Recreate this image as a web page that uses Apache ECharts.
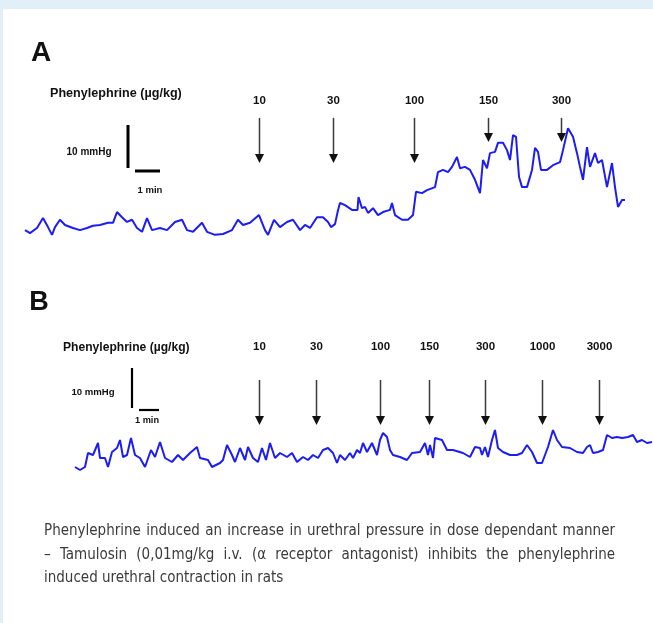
<!DOCTYPE html>
<html>
<head>
<meta charset="utf-8">
<script src="https://cdn.jsdelivr.net/npm/echarts@6/dist/echarts.min.js"></script>
<style>
html,body{margin:0;padding:0;background:#ffffff;}
#c{width:653px;height:623px;}
</style>
</head>
<body>
<div id="c"></div>
<script>
// ---------- Panel A: urethral pressure trace (time in min, pressure in mmHg, relative) ----------
const traceA_t = [0,0.2,0.48,0.72,0.92,1.08,1.2,1.4,1.6,1.92,2.2,2.48,2.72,3.0,3.32,3.52,3.68,3.88,4.08,4.28,4.48,4.68,4.88,5.08,5.4,5.68,6.0,6.28,6.48,6.72,7.08,7.28,7.6,7.92,8.28,8.52,8.72,9.0,9.36,9.6,9.72,9.96,10.2,10.48,10.72,11.0,11.2,11.4,11.68,11.92,12.12,12.24,12.4,12.52,12.6,12.8,13.08,13.3,13.34,13.48,13.6,13.72,13.92,14.12,14.32,14.6,14.68,14.8,15.08,15.32,15.52,15.64,15.88,16.08,16.4,16.52,16.72,16.92,17.08,17.12,17.28,17.4,17.6,17.8,18.0,18.2,18.32,18.48,18.6,18.8,18.92,19.12,19.28,19.4,19.52,19.64,19.76,19.88,20.08,20.28,20.4,20.52,20.64,20.88,21.12,21.4,21.52,21.72,21.92,22.08,22.2,22.32,22.48,22.6,22.8,22.92,23.08,23.28,23.48,23.6,23.72,23.88,24.0];
const traceA_p = [2.3,1.6,2.8,5.1,3.0,1.2,3.0,4.7,3.5,2.8,2.3,2.8,3.3,3.5,4.0,4.0,6.5,5.3,4.2,4.7,2.8,1.9,5.1,2.3,2.8,2.3,4.2,4.7,2.3,1.9,4.0,1.9,1.2,1.4,2.3,4.7,3.5,4.0,5.8,2.3,1.2,4.7,3.0,4.2,4.7,2.3,3.5,2.8,5.3,5.3,4.2,3.0,3.7,6.9,8.6,8.1,7.0,7.0,10.0,7.4,7.7,6.3,7.4,5.8,6.5,7.0,8.6,5.8,4.7,4.7,5.8,11.2,10.9,11.6,12.3,15.8,16.3,15.8,17.0,16.7,19.3,16.7,17.0,16.3,14.0,10.9,18.6,16.7,20.2,20.5,22.6,22.6,20.9,18.6,24.4,24.0,14.7,12.3,12.3,16.3,21.4,20.5,16.3,16.3,17.4,18.1,20.9,26.0,24.0,20.2,17.0,14.0,21.6,17.0,20.2,17.9,18.6,12.3,17.9,12.3,7.7,9.3,9.3];

// ---------- Panel B: trace after Tamulosin ----------
const traceB_t = [0,0.25,0.5,0.65,0.9,1.15,1.25,1.5,1.65,1.85,2.1,2.25,2.4,2.6,2.8,3.0,3.25,3.5,3.8,4.0,4.25,4.5,4.85,5.15,5.4,5.75,6.1,6.25,6.65,6.85,7.25,7.4,7.6,7.85,8.0,8.25,8.5,8.65,8.9,9.15,9.35,9.55,9.75,10.0,10.25,10.6,10.85,11.1,11.4,11.65,11.9,12.15,12.4,12.65,12.9,13.1,13.25,13.5,13.75,13.9,14.1,14.25,14.4,14.6,14.85,15.1,15.25,15.4,15.6,15.75,15.9,16.25,16.6,16.85,17.25,17.5,17.65,17.75,17.9,18.0,18.35,18.6,18.9,19.4,19.75,20.0,20.25,20.35,20.5,20.65,20.85,21.0,21.15,21.4,21.75,22.1,22.35,22.6,22.85,23.1,23.35,23.65,23.9,24.1,24.35,24.75,25.1,25.4,25.6,25.75,25.9,26.15,26.4,26.6,26.85,27.1,27.35,27.65,27.9,28.1,28.35,28.6,28.85];
const traceB_p = [2.0,1.25,2.0,5.5,5.0,8.0,4.25,4.25,2.0,5.75,6.75,8.75,4.5,5.0,9.25,5.0,4.25,2.0,6.25,4.5,8.25,4.25,3.25,5.0,3.75,5.5,7.0,4.25,3.75,2.0,3.0,3.75,7.5,5.0,3.25,6.75,3.75,7.0,4.25,3.25,6.75,3.75,8.0,4.25,5.5,4.5,5.5,3.25,4.5,3.75,5.0,4.25,6.25,6.75,5.5,3.0,5.0,3.75,5.5,4.25,6.25,5.5,8.0,5.75,8.0,5.0,8.75,10.5,9.5,6.25,5.0,4.5,3.75,5.5,5.75,8.0,5.0,7.5,4.25,9.25,8.75,6.25,6.25,5.5,4.5,7.0,6.75,5.0,7.0,4.5,8.75,11.25,6.75,5.75,5.0,5.0,5.5,7.5,5.75,3.0,3.0,7.0,11.25,8.75,7.0,6.75,5.75,5.5,7.0,7.5,5.5,5.75,6.25,10.0,9.25,9.5,9.25,9.5,10.0,8.25,8.75,8.0,8.25];

// ---------- Doses (µg/kg) and injection times ----------
const dosesA = ['10','30','100','150','300'];
const doseA_t = [9.36,12.32,15.56,18.52,21.44];
const doseA_tip = [17.9,17.9,17.9,22.8,22.8];
const dosesB = ['10','30','100','150','300','1000','3000'];
const doseB_t = [9.2,12.05,15.25,17.7,20.5,23.35,26.2];
const doseB_tip = [12.5,12.5,12.5,12.5,12.5,12.5,12.5];

// ---------- Scale bars ----------
const scaleBarMmHg = 10;
const scaleBarMin = 1;

const captionLines = [
  'Phenylephrine induced an increase in urethral pressure in dose dependant manner',
  '\u2013 Tamulosin (0,01mg/kg i.v. (\u03b1 receptor antagonist) inhibits the phenylephrine',
  'induced urethral contraction in rats'
];

// ================= layout / rendering =================
const BLUE = '#1c1cf4';
const BOLD = 'Liberation Sans, Arial, Helvetica, sans-serif';
const CAP_FONT_FAMILY = '"Liberation Sans Narrow", "DejaVu Sans Condensed", "Arial Narrow", sans-serif';
const CAP_SIZE = 15;

const chart = echarts.init(document.getElementById('c'), null, {renderer: 'canvas'});

function arrowSeries(ax, times, tips, topP, labels, gap) {
  return {
    type: 'custom', xAxisIndex: ax, yAxisIndex: ax, silent: true, clip: false, z: 5,
    data: times.map((t, i) => [t, topP, tips[i]]),
    renderItem: function (params, api) {
      const a = api.coord([api.value(0), api.value(1)]);
      const b = api.coord([api.value(0), api.value(2)]);
      const x = Math.round(a[0]) + 0.5, y0 = a[1], y1 = b[1];
      const hl = 9, hw = 4.5;
      return {
        type: 'group',
        children: [
          {type: 'line', shape: {x1: x, y1: y0, x2: x, y2: y1 - hl + 1}, style: {stroke: '#3a3a3a', lineWidth: 1.5}},
          {type: 'polygon', shape: {points: [[x - hw, y1 - hl], [x + hw, y1 - hl], [x, y1]]}, style: {fill: '#111'}},
          {type: 'text', x: x, y: y0 - gap, style: {text: labels[params.dataIndex], fill: '#111', fontFamily: BOLD, fontWeight: 'bold', fontSize: 11.5, align: 'center', verticalAlign: 'middle'}}
        ]
      };
    }
  };
}

function scaleSeries(ax, vt, vp, ht, hp, w) {
  return {
    type: 'custom', xAxisIndex: ax, yAxisIndex: ax, silent: true, clip: false, z: 5,
    data: [[vt, vp, ht, hp]],
    renderItem: function (params, api) {
      const v0 = api.coord([api.value(0), api.value(1)]);
      const v1 = api.coord([api.value(0), api.value(1) + scaleBarMmHg]);
      const h0 = api.coord([api.value(2), api.value(3)]);
      const h1 = api.coord([api.value(2) + scaleBarMin, api.value(3)]);
      return {
        type: 'group',
        children: [
          {type: 'line', shape: {x1: v0[0], y1: v0[1], x2: v1[0], y2: v1[1]}, style: {stroke: '#000', lineWidth: w}},
          {type: 'line', shape: {x1: h0[0], y1: h0[1], x2: h1[0], y2: h1[1]}, style: {stroke: '#000', lineWidth: w}}
        ]
      };
    }
  };
}

// caption with justification for the full lines
const measureCtx = document.createElement('canvas').getContext('2d');
measureCtx.font = CAP_SIZE + 'px ' + CAP_FONT_FAMILY;
const capLeft = 44, capWidth = 571, capY = [531, 555, 578];
const captionGraphics = [];
captionLines.forEach((line, li) => {
  const words = line.split(' ');
  if (li < 2) {
    const widths = words.map(w => measureCtx.measureText(w).width);
    const sum = widths.reduce((s, v) => s + v, 0);
    const gap = (capWidth - sum) / (words.length - 1);
    let x = capLeft;
    words.forEach((w, i) => {
      captionGraphics.push({type: 'text', x: x, y: capY[li], style: {text: w, fill: '#3b3b3b', fontFamily: CAP_FONT_FAMILY, fontSize: CAP_SIZE, verticalAlign: 'middle', align: 'left'}});
      x += widths[i] + gap;
    });
  } else {
    captionGraphics.push({type: 'text', x: capLeft, y: capY[li], style: {text: line, fill: '#3b3b3b', fontFamily: CAP_FONT_FAMILY, fontSize: CAP_SIZE, verticalAlign: 'middle', align: 'left'}});
  }
});

function label(text, x, y, size, align) {
  return {type: 'text', x: x, y: y, style: {text: text, fill: '#111', fontFamily: BOLD, fontWeight: 'bold', fontSize: size, align: align || 'center', verticalAlign: 'middle'}};
}

const option = {
  animation: false,
  backgroundColor: '#ffffff',
  grid: [
    {left: 25, top: 111, width: 600, height: 129},
    {left: 75, top: 355, width: 578, height: 120}
  ],
  xAxis: [
    {type: 'value', gridIndex: 0, min: 0, max: 24, show: false},
    {type: 'value', gridIndex: 1, min: 0, max: 28.9, show: false}
  ],
  yAxis: [
    {type: 'value', gridIndex: 0, min: 0, max: 30, show: false},
    {type: 'value', gridIndex: 1, min: 0, max: 30, show: false}
  ],
  graphic: [
    {type: 'rect', shape: {x: 0, y: 0, width: 653, height: 9}, style: {fill: '#e1f0f8'}, z: -10},
    {type: 'rect', shape: {x: 0, y: 0, width: 3, height: 623}, style: {fill: '#e1f0f8'}, z: -10},
    label('A', 41, 53, 28),
    label('B', 39, 303, 27),
    label('Phenylephrine (\u00b5g/kg)', 50, 94, 12.6, 'left'),
    label('Phenylephrine (\u00b5g/kg)', 63, 348, 12.1, 'left'),
    label('10 mmHg', 89, 152, 10),
    label('1 min', 150, 190, 9.5),
    label('10 mmHg', 93, 392, 9.6),
    label('1 min', 147, 420, 9.2)
  ].concat(captionGraphics),
  series: [
    {type: 'line', xAxisIndex: 0, yAxisIndex: 0, data: traceA_t.map((t, i) => [t, traceA_p[i]]), showSymbol: false, symbol: 'none', lineStyle: {color: BLUE, width: 2}, silent: true, z: 3},
    {type: 'line', xAxisIndex: 1, yAxisIndex: 1, data: traceB_t.map((t, i) => [t, traceB_p[i]]), showSymbol: false, symbol: 'none', lineStyle: {color: BLUE, width: 2}, silent: true, z: 3},
    arrowSeries(0, doseA_t, doseA_tip, 28.4, dosesA, 17),
    arrowSeries(1, doseB_t, doseB_tip, 23.75, dosesB, 33),
    scaleSeries(0, 4.12, 16.74, 4.4, 16.05, 3),
    scaleSeries(1, 2.85, 16.75, 3.2, 16.25, 2.2)
  ]
};
chart.setOption(option);
</script>
</body>
</html>
